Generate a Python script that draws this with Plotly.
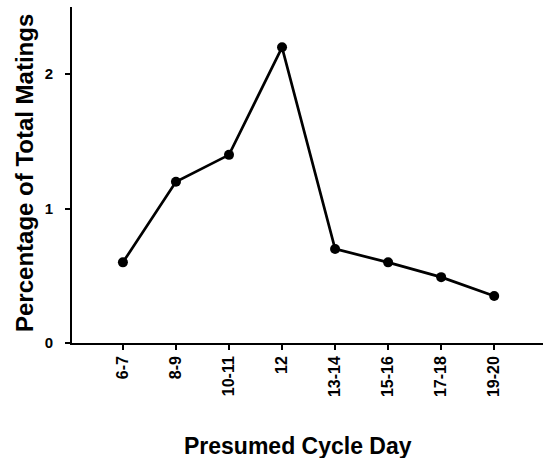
import plotly.graph_objects as go

categories = ["6-7", "8-9", "10-11", "12", "13-14", "15-16", "17-18", "19-20"]
percent_matings = [0.6, 1.2, 1.4, 2.2, 0.7, 0.6, 0.49, 0.35]
y_ticks = [0, 1, 2]

fig = go.Figure()
fig.add_trace(go.Scatter(
    x=list(range(len(categories))), y=percent_matings,
    mode="lines+markers",
    line=dict(color="black", width=2.7),
    marker=dict(color="black", size=10),
    showlegend=False,
))
# empty trace tied to the label axis so it is laid out
fig.add_trace(go.Scatter(x=[], y=[], yaxis="y2", showlegend=False, hoverinfo="skip"))

font_family = "Liberation Sans, Arial, sans-serif"
fig.update_layout(
    width=543, height=458,
    margin=dict(l=72, r=0, t=7, b=115),
    paper_bgcolor="white", plot_bgcolor="white",
    font=dict(family=font_family, color="black"),
    xaxis=dict(
        range=[-0.96, 7.92],
        tickmode="array", tickvals=list(range(len(categories))), ticktext=[f"<b>{c}</b>" for c in categories],
        tickangle=-90, ticks="outside", ticklen=5, tickwidth=1.5, tickcolor="black",
        showline=True, linecolor="black", linewidth=1.5,
        showgrid=False, zeroline=False,
        tickfont=dict(size=16, family=font_family),
    ),
    yaxis=dict(
        range=[0, 2.5],
        tickmode="array", tickvals=y_ticks,
        showticklabels=False,
        ticks="outside", ticklen=5, tickwidth=1.5, tickcolor="black",
        showline=True, linecolor="black", linewidth=1.5,
        showgrid=False, zeroline=False,
    ),
    yaxis2=dict(
        overlaying="y", side="left",
        range=[0, 2.5],
        tickmode="array", tickvals=y_ticks,
        ticktext=[f"<b>{v}</b>" for v in y_ticks],
        ticks="outside", ticklen=15, tickwidth=1, tickcolor="rgba(0,0,0,0)",
        showline=False, showgrid=False, zeroline=False,
        tickfont=dict(size=15, family=font_family),
    ),
    annotations=[
        dict(text="<b>Presumed Cycle Day</b>", xref="paper", yref="paper",
             x=(298 - 72) / 471, y=-(446 - 343) / 336, xanchor="center", yanchor="middle",
             showarrow=False, font=dict(size=23, family=font_family)),
        dict(text="<b>Percentage of Total Matings</b>", xref="paper", yref="paper",
             x=-(72 - 24) / 471, y=(343 - 173) / 336, xanchor="center", yanchor="middle",
             textangle=-90, showarrow=False, font=dict(size=24, family=font_family)),
    ],
)

fig.write_html("out.html")
